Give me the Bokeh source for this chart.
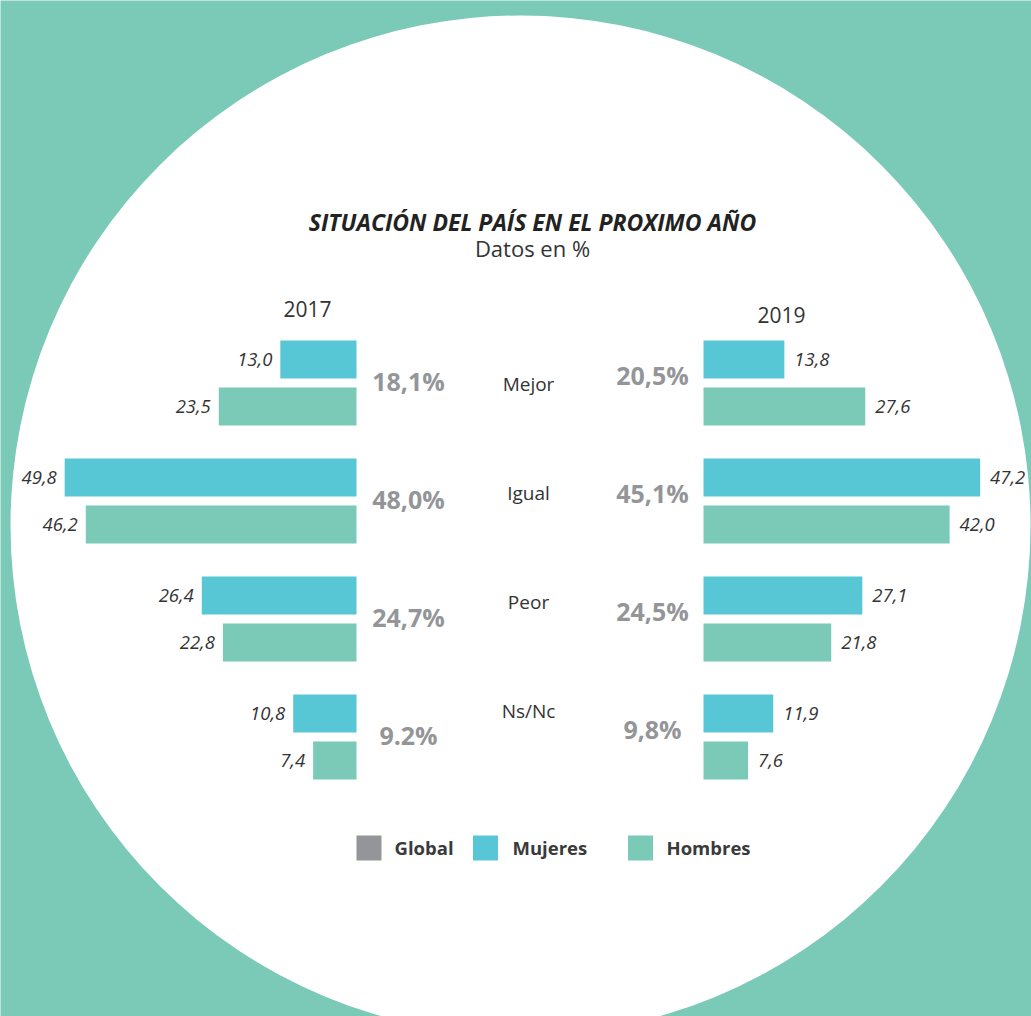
from bokeh.plotting import figure
from bokeh.models import Range1d, ColumnDataSource
from bokeh.core.properties import value
from bokeh.embed import file_html
from bokeh.resources import INLINE

# ---- data ----
categories = ["Mejor", "Igual", "Peor", "Ns/Nc"]
mujeres_2017 = [13.0, 49.8, 26.4, 10.8]
hombres_2017 = [23.5, 46.2, 22.8, 7.4]
global_2017 = ["18,1%", "48,0%", "24,7%", "9.2%"]
mujeres_2019 = [13.8, 47.2, 27.1, 11.9]
hombres_2019 = [27.6, 42.0, 21.8, 7.6]
global_2019 = ["20,5%", "45,1%", "24,5%", "9,8%"]
years = ["2017", "2019"]
legend_labels = ["Global", "Mujeres", "Hombres"]

TEAL = "#7BCAB8"
BLUE = "#58C7D5"
GRAY = "#939598"
DARK = "#333333"
FONT = value("Open Sans")

W, H = 1031, 1016
p = figure(width=W, height=H, output_backend="svg", toolbar_location=None,
           x_range=Range1d(0, W), y_range=Range1d(H, 0),
           x_axis_location=None, y_axis_location=None, min_border=0,
           background_fill_color=TEAL, border_fill_color=TEAL)
p.grid.visible = False
p.outline_line_color = None

# value scales (5.86 px per percentage point)
S = 5.86
p.extra_x_ranges = {
    "l": Range1d(start=356 / S, end=(356 - W) / S),
    "r": Range1d(start=-703 / S, end=(W - 703) / S),
}
# category scale for bars: 118 px per category
C = 118.0
Y0 = 382.5
# category scale for the centre labels: 109 px per category
CL = 109.0
YL = 383.0
p.extra_y_ranges = {
    "cats": Range1d(start=(H - Y0) / C, end=-Y0 / C),
    "labs": Range1d(start=(H - YL) / CL, end=-YL / CL),
}

# white circle
p.circle(x=[520], y=[525], radius=510, fill_color="white", line_color=None)

idx = list(range(len(categories)))
off = 0.2
bh = 38 / C

def fmt(v):
    return f"{v:.1f}".replace(".", ",")

for rng, muj, hom, glob, align, xoff, gx, gyoff in [
    ("l", mujeres_2017, hombres_2017, global_2017, "right", -8, 408, -2),
    ("r", mujeres_2019, hombres_2019, global_2019, "left", 10, 652, -8),
]:
    src = ColumnDataSource(dict(
        ym=[i - off for i in idx], yh=[i + off for i in idx], m=muj, h=hom,
        ml=[fmt(v) for v in muj], hl=[fmt(v) for v in hom],
        yg=idx, g=glob))
    p.hbar(y="ym", height=bh, left=0, right="m", source=src, fill_color=BLUE,
           line_color=None, x_range_name=rng, y_range_name="cats")
    p.hbar(y="yh", height=bh, left=0, right="h", source=src, fill_color=TEAL,
           line_color=None, x_range_name=rng, y_range_name="cats")
    p.text(x="m", y="ym", text="ml", source=src, x_range_name=rng, y_range_name="cats",
           text_align=align, text_baseline="middle", x_offset=xoff,
           text_font=FONT, text_font_style="italic", text_font_size="18.5px", text_color=DARK)
    p.text(x="h", y="yh", text="hl", source=src, x_range_name=rng, y_range_name="cats",
           text_align=align, text_baseline="middle", x_offset=xoff,
           text_font=FONT, text_font_style="italic", text_font_size="18.5px", text_color=DARK)
    p.text(x=gx, y="yg", text="g", source=src, y_range_name="cats", y_offset=gyoff,
           text_align="center", text_baseline="middle",
           text_font=FONT, text_font_style="bold", text_font_size="25px", text_color=GRAY)

# category labels
p.text(x=[528] * 4, y=idx, text=categories, y_range_name="labs",
       text_align="center", text_baseline="middle", text_font=FONT,
       text_font_size="19px", text_color=DARK)

# titles
p.text(x=[532], y=[221], text=["SITUACIÓN DEL PAÍS EN EL PROXIMO AÑO"],
       text_align="center", text_baseline="middle", text_font=FONT,
       text_font_style="bold italic", text_font_size="23px", text_color="#222222")
p.text(x=[532], y=[247], text=["Datos en %"], text_align="center", text_baseline="middle",
       text_font=FONT, text_font_size="22px", text_color=DARK)
p.text(x=[307, 781], y=[308, 314], text=years, text_align="center", text_baseline="middle",
       text_font=FONT, text_font_size="21px", text_color=DARK)

# legend
p.rect(x=[368.5, 485, 640], y=[847.5] * 3, width=25, height=25,
       fill_color=[GRAY, BLUE, TEAL], line_color=None)
p.text(x=[394, 512, 666], y=[847] * 3, text=legend_labels, text_align="left",
       text_baseline="middle", text_font=FONT, text_font_style="bold",
       text_font_size="18.5px", text_color="#3a3a3a")

open("out.html", "w").write(file_html(p, INLINE))
